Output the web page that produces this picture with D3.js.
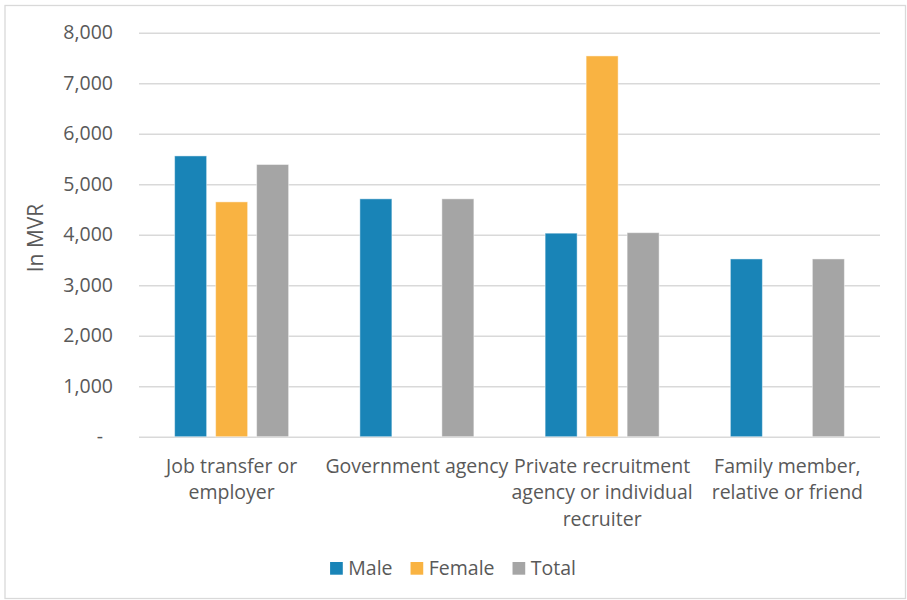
<!DOCTYPE html>
<html>
<head>
<meta charset="utf-8">
<script src="https://cdn.jsdelivr.net/npm/d3@7"></script>
<style>
  html, body { margin: 0; padding: 0; background: #fff; }
  svg { display: block; }
  text { font-family: "Open Sans", "Noto Sans", sans-serif; fill: #595959; }
</style>
</head>
<body>
<svg id="chart" width="907" height="600"></svg>
<script>
// Average monthly earnings by job-search channel, in MVR
const categories = [
  ["Job transfer or", "employer"],
  ["Government agency"],
  ["Private recruitment", "agency or individual", "recruiter"],
  ["Family member,", "relative or friend"]
];
const categoryKeys = ["job", "gov", "private", "family"];
const seriesNames = ["Male", "Female", "Total"];
const seriesColors = ["#1984B7", "#F9B342", "#A5A5A5"];
const maleValues = [5560, 4710, 4030, 3520];
const femaleValues = [4650, 0, 7540, 0];
const totalValues = [5390, 4710, 4040, 3520];
const yTicks = [0, 1000, 2000, 3000, 4000, 5000, 6000, 7000, 8000];

const seriesValues = [maleValues, femaleValues, totalValues];

const svg = d3.select("#chart");
const fontSize = 19.5;

// outer frame
svg.append("rect")
  .attr("x", 5).attr("y", 5.5)
  .attr("width", 900.5).attr("height", 593)
  .attr("fill", "#fff")
  .attr("stroke", "#d9d9d9").attr("stroke-width", 1.3);

const plot = { left: 139, right: 880, top: 32.7, bottom: 436.7 };

const y = d3.scaleLinear().domain([0, 8000]).range([plot.bottom, plot.top]);
const x = d3.scaleBand().domain(categoryKeys).range([plot.left, plot.right]).padding(0);
const xs = d3.scaleBand().domain(seriesNames).range([0, x.bandwidth()])
  .paddingInner(0.2195).paddingOuter(0.869);

// gridlines
const grid = svg.append("g")
  .attr("transform", `translate(${plot.left},0)`)
  .call(d3.axisLeft(y).tickValues(yTicks).tickSize(-(plot.right - plot.left)).tickFormat(""));
grid.select(".domain").remove();
grid.selectAll("line").attr("stroke", "#d9d9d9").attr("stroke-width", 1.4);

// y tick labels
const yAxis = svg.append("g")
  .attr("transform", `translate(113,0)`)
  .call(d3.axisLeft(y).tickValues(yTicks).tickSize(0).tickPadding(0)
    .tickFormat(d => d === 0 ? "-" : d3.format(",")(d)));
yAxis.select(".domain").remove();
yAxis.selectAll("text")
  .style("font-size", fontSize + "px")
  .style("font-family", "'Open Sans', sans-serif")
  .attr("fill", "#595959")
  .attr("dx", d => d === 0 ? -10 : 0);

// bars
const groups = svg.append("g").selectAll("g")
  .data(categoryKeys)
  .join("g")
  .attr("transform", k => `translate(${x(k)},0)`);

groups.selectAll("rect")
  .data((k, i) => seriesNames.map((s, j) => ({ s, j, v: seriesValues[j][i] })).filter(d => d.v > 0))
  .join("rect")
  .attr("x", d => xs(d.s))
  .attr("width", xs.bandwidth())
  .attr("y", d => y(d.v))
  .attr("height", d => y(0) - y(d.v))
  .attr("fill", d => seriesColors[d.j])
  .attr("stroke", "rgba(255,255,255,0.45)")
  .attr("stroke-width", 1);

// category labels
const lineH = 26.7;
svg.append("g").selectAll("text")
  .data(categories)
  .join("text")
  .attr("text-anchor", "middle")
  .style("font-size", fontSize + "px")
  .attr("transform", (d, i) => `translate(${x(categoryKeys[i]) + x.bandwidth() / 2},472.5)`)
  .selectAll("tspan")
  .data(d => d)
  .join("tspan")
  .attr("x", 0)
  .attr("y", (d, i) => i * lineH)
  .text(d => d);

// y axis title
svg.append("text")
  .attr("transform", "translate(43,238) rotate(-90)")
  .attr("text-anchor", "middle")
  .style("font-size", "21px")
  .text("In MVR");

// legend
const legend = svg.append("g");
const items = legend.selectAll("g")
  .data(seriesNames)
  .join("g");
const sq = 12.7;
items.append("rect")
  .attr("width", sq).attr("height", sq)
  .attr("y", 562)
  .attr("fill", (d, i) => seriesColors[i]);
items.append("text")
  .attr("x", sq + 5.5)
  .attr("y", 575)
  .style("font-size", fontSize + "px")
  .text(d => d);
let cursor = 0;
const offsets = [];
items.each(function () {
  const w = sq + 5.5 + d3.select(this).select("text").node().getComputedTextLength();
  offsets.push(cursor);
  cursor += w + 18;
});
const totalW = cursor - 18;
const start = 453 - totalW / 2;
items.attr("transform", (d, i) => `translate(${start + offsets[i]},0)`);
</script>
</body>
</html>
